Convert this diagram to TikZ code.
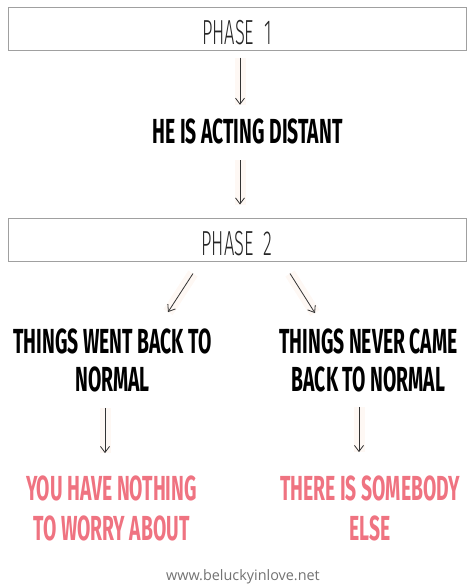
\documentclass[tikz,border=0pt]{standalone}
\usepackage{fontspec}
\usetikzlibrary{arrows.meta,positioning}
\newfontfamily\handbold[FakeStretch=0.555]{Fira Sans Bold}
\newfontfamily\handthin[FakeStretch=0.525]{Fira Sans Light}
\newfontfamily\webfont{Open Sans}
\definecolor{boxgray}{HTML}{A0A0A0}
\definecolor{arrowgray}{HTML}{333333}
\definecolor{arrowbg}{HTML}{FEF8F4}
\definecolor{heartpink}{HTML}{EF7381}
\definecolor{webgray}{HTML}{727272}

\begin{document}
\begin{tikzpicture}[x=1pt,y=-1pt,
    phasebox/.style={rectangle,draw=boxgray,line width=1pt,minimum width=458pt,minimum height=43pt,
      text height=31pt,text depth=0pt,font=\handthin\fontsize{34.8}{36}\selectfont,text=black!85},
    answer/.style={inner sep=0pt,align=center,anchor=base,
      font=\handbold\fontsize{34.8}{38}\selectfont},
    verdict/.style={answer,text=heartpink,font=\handbold\fontsize{34.8}{40}\selectfont},
    arrow/.style={-{Straight Barb[length=6pt,width=9pt]},draw=arrowgray,line width=0.8pt,
      preaction={draw=arrowbg,line width=11pt,-}}]
    \useasboundingbox (0,0) rectangle (475,587);
    \node[phasebox] (phase1) at (237,28.5) {PHASE\ \ 1};
    \node[inner sep=0pt,text height=25pt,text depth=0pt,font=\handbold\fontsize{34.8}{38}\selectfont]
      (distant) at (247.5,130.5) {HE IS ACTING DISTANT};
    \node[phasebox] (phase2) at (237,239.5) {PHASE\ \ 2};
    \node[answer] (went) at (112.5,391) {THINGS WENT BACK TO\\NORMAL};
    \node[answer] (never) at (368.5,391) {THINGS NEVER CAME\\BACK TO NORMAL};
    \node[verdict] (nothing) at (111.5,540) {YOU HAVE NOTHING\\TO WORRY ABOUT};
    \node[verdict] (else) at (370,540) {THERE IS SOMEBODY\\ELSE};
    \node[font=\webfont\fontsize{14.4}{16}\selectfont,text=webgray] (site) at (243,577) {www.beluckyinlove.net};
    % phase one
    \draw[arrow,shorten <=7pt,shorten >=13pt] ([xshift=3pt]phase1.south) -- ([xshift=3pt]phase1.south |- distant.north);
    \draw[arrow,shorten <=17pt,shorten >=13pt] ([xshift=3pt]phase2.north |- distant.south) -- ([xshift=3pt]phase2.north);
    % phase two
    \draw[arrow] ([xshift=-44pt,yshift=-12pt]phase2.south) -- ([xshift=55.5pt,yshift=16pt]went.north);
    \draw[arrow] ([xshift=53pt,yshift=-12pt]phase2.south) -- ([xshift=-53.5pt,yshift=15pt]never.north);
    \draw[arrow,shorten <=16pt,shorten >=22pt] ([xshift=-7.5pt]went.south) -- ([xshift=-7.5pt]went.south |- nothing.north);
    \draw[arrow,shorten <=15pt,shorten >=23pt] ([xshift=-9.5pt]never.south) -- ([xshift=-9.5pt]never.south |- else.north);
\end{tikzpicture}
\end{document}
